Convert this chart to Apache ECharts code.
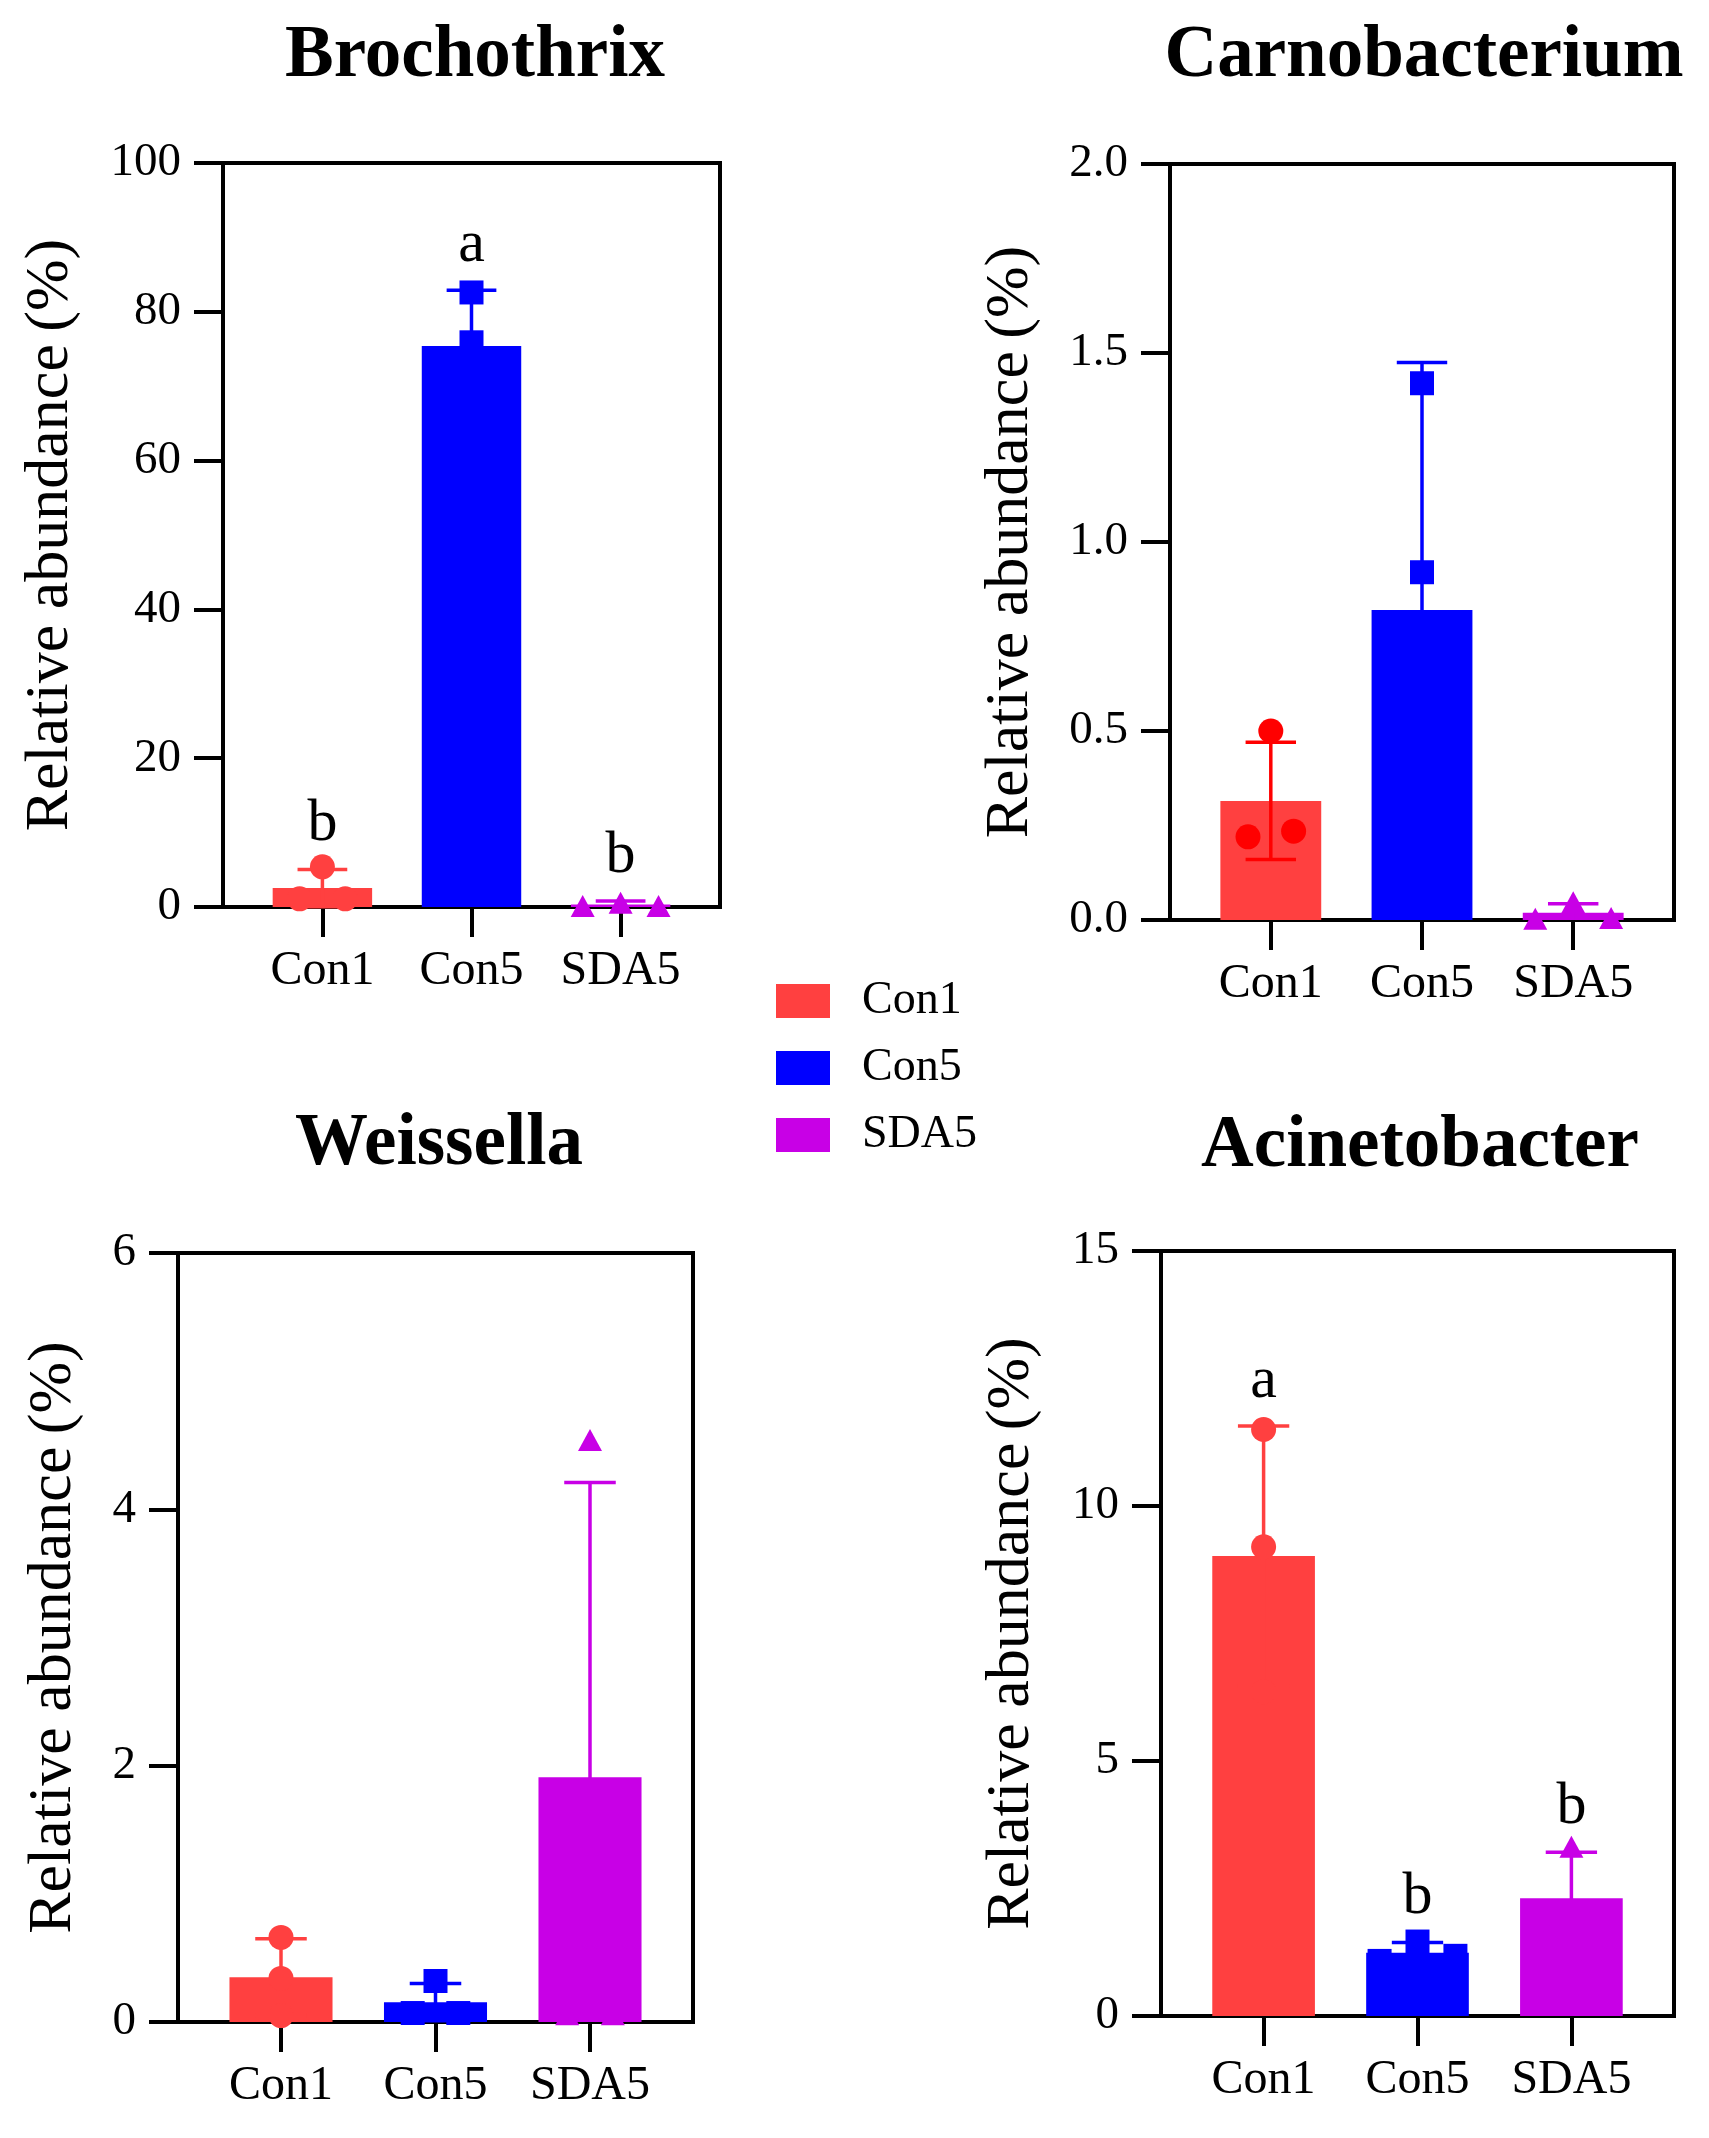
<!DOCTYPE html>
<html>
<head>
<meta charset="utf-8">
<script src="https://cdn.jsdelivr.net/npm/echarts@6/dist/echarts.min.js"></script>
<style>
html, body { margin: 0; padding: 0; background: #fff; }
#chart { width: 1709px; height: 2138px; }
</style>
</head>
<body>
<div id="chart"></div>
<script>
// groups
var groups = ['Con1', 'Con5', 'SDA5'];
var groupColors = ['#FF4040', '#0000FF', '#C800E6'];

// Brochothrix
var brochoMean = [2.55, 75.4, 0.35];
var brochoSD = [2.5, 7.5, 0.45];
var brochoPoints = [[5.4, 1.1, 1.1], [82.6, 75.9, 67.7], [0.12, 0.58, 0.12]];
var brochoLetters = ['b', 'a', 'b'];

// Carnobacterium
var carnoMean = [0.315, 0.82, 0.019];
var carnoSD = [0.155, 0.655, 0.024];
var carnoPoints = [[0.50, 0.22, 0.235], [1.42, 0.92, 0.12], [0.003, 0.047, 0.005]];

// Weissella
var weisMean = [0.35, 0.155, 1.91];
var weisSD = [0.3, 0.145, 2.3];
var weisPoints = [[0.66, 0.34, 0.05], [0.32, 0.07, 0.07], [4.54, 0.06, 0.06]];

// Acinetobacter
var acinMean = [9.02, 1.24, 2.31];
var acinSD = [2.55, 0.2, 0.9];
var acinPoints = [[11.5, 9.2, 6.36], [1.46, 1.18, 1.08], [3.32, 2.0, 1.61]];
var acinLetters = ['a', 'b', 'b'];

var FONT = "'Liberation Serif', 'Times New Roman', serif";
var yName = 'Relative abundance\u2009(%)';

var panels = [
    { title: 'Brochothrix', mean: brochoMean, sd: brochoSD, pts: brochoPoints, letters: brochoLetters,
      max: 100, interval: 20, digits: 0, box: [223, 163, 720, 907], titleX: 475, titleY: 51, nameX: 50 },
    { title: 'Carnobacterium', mean: carnoMean, sd: carnoSD, pts: carnoPoints, letters: null,
      max: 2, interval: 0.5, digits: 1, box: [1170, 164, 1674, 920], titleX: 1424, titleY: 51, nameX: 1010,
      pointColors: ['#FF0000', null, null] },
    { title: 'Weissella', mean: weisMean, sd: weisSD, pts: weisPoints, letters: null,
      max: 6, interval: 2, digits: 0, box: [178, 1253, 693, 2022], titleX: 439, titleY: 1139, nameX: 53 },
    { title: 'Acinetobacter', mean: acinMean, sd: acinSD, pts: acinPoints, letters: acinLetters,
      max: 15, interval: 5, digits: 0, box: [1161, 1251, 1674, 2016], titleX: 1420, titleY: 1141, nameX: 1011 }
];

var MARK = 24;

// 重叠的点左右散开
function spread(ys, size) {
    var idx = ys.map(function (y, i) { return i; }).sort(function (a, b) { return ys[b] - ys[a]; });
    var off = ys.map(function () { return 0; });
    var clusters = [], cur = [idx[0]];
    for (var j = 1; j < idx.length; j++) {
        if (Math.abs(ys[idx[j]] - ys[cur[cur.length - 1]]) < size) cur.push(idx[j]);
        else { clusters.push(cur); cur = [idx[j]]; }
    }
    clusters.push(cur);
    clusters.forEach(function (c) {
        if (c.length === 2) { off[c[0]] = -0.95 * size; off[c[1]] = 0.95 * size; }
        if (c.length === 3) { off[c[0]] = -1.58 * size; off[c[1]] = 1.58 * size; off[c[2]] = 0; }
    });
    return off;
}

function marker(k, x, y, color) {
    var r = MARK / 2;
    if (k === 0) return { type: 'circle', shape: { cx: x, cy: y, r: r + 0.5 }, style: { fill: color } };
    if (k === 1) return { type: 'rect', shape: { x: x - r, y: y - r, width: MARK, height: MARK }, style: { fill: color } };
    return { type: 'polygon', shape: { points: [[x, y - 11], [x - 12, y + 11], [x + 12, y + 11]] }, style: { fill: color } };
}

var grids = [], xAxes = [], yAxes = [], series = [], titles = [];

panels.forEach(function (p, i) {
    var L = p.box[0], T = p.box[1], R = p.box[2], B = p.box[3];
    var w = R - L, h = B - T, s = w * 0.3, inset = s / 6;
    var fi = 2 * i, pi = 2 * i + 1;

    // 外框
    grids.push({ left: L, top: T, width: w, height: h, show: true, borderColor: '#000', borderWidth: 4, backgroundColor: 'transparent' });
    xAxes.push({ gridIndex: fi, type: 'value', show: false, min: 0, max: 1 });
    yAxes.push({ gridIndex: fi, type: 'value', show: false, min: 0, max: 1 });

    // 绘图区
    grids.push({ left: L + inset, top: T, width: 3 * s, height: h });
    xAxes.push({
        gridIndex: pi, type: 'category', data: groups,
        axisLine: { show: false },
        axisTick: { show: true, alignWithLabel: true, length: 30, lineStyle: { color: '#000', width: 4 } },
        axisLabel: { interval: 0, fontSize: 48, color: '#000', fontFamily: FONT, margin: 40 }
    });
    yAxes.push({
        gridIndex: pi, type: 'value', min: 0, max: p.max, interval: p.interval, offset: inset,
        axisLine: { show: true, lineStyle: { color: '#000', width: 4 } },
        axisTick: { show: true, length: 29, lineStyle: { color: '#000', width: 4 } },
        splitLine: { show: false },
        axisLabel: {
            fontSize: 47, color: '#000', fontFamily: FONT, margin: 42,
            formatter: function (v) { return v.toFixed(p.digits); }
        },
        name: yName, nameLocation: 'middle', nameGap: L - p.nameX - 32,
        nameTextStyle: { fontSize: 62, color: '#000', fontFamily: FONT }
    });

    groups.forEach(function (g, k) {
        series.push({
            type: 'bar', name: g, xAxisIndex: pi, yAxisIndex: pi,
            barWidth: '66.7%', barGap: '-100%', z: 2,
            itemStyle: { color: groupColors[k] },
            data: groups.map(function (_, j) { return j === k ? p.mean[k] : '-'; })
        });
    });

    // 误差线、散点、显著性字母
    series.push({
        type: 'custom', name: 'err' + i, xAxisIndex: pi, yAxisIndex: pi, z: 3,
        encode: { x: 0, y: 1 },
        data: groups.map(function (_, k) { return [k, p.mean[k], p.sd[k]]; }),
        renderItem: function (params, api) {
            var k = params.dataIndex;
            var m = api.value(1), sd = api.value(2);
            var color = (p.pointColors && p.pointColors[k]) || groupColors[k];
            var top = api.coord([k, m + sd]);
            var lo = api.coord([k, Math.max(0, m - sd)]);
            var cap = api.size([1, 0])[0] * 0.667 * 0.5;
            var lw = 3.5;
            var kids = [
                { type: 'line', shape: { x1: top[0], y1: top[1], x2: lo[0], y2: lo[1] }, style: { stroke: color, lineWidth: lw } },
                { type: 'line', shape: { x1: top[0] - cap / 2, y1: top[1], x2: top[0] + cap / 2, y2: top[1] }, style: { stroke: color, lineWidth: lw } }
            ];
            if (m - sd > 0) {
                kids.push({ type: 'line', shape: { x1: lo[0] - cap / 2, y1: lo[1], x2: lo[0] + cap / 2, y2: lo[1] }, style: { stroke: color, lineWidth: lw } });
            }
            var pts = p.pts[k];
            var xy = pts.map(function (v) { return api.coord([k, v]); });
            var off = spread(xy.map(function (c) { return c[1]; }), MARK);
            xy.forEach(function (c, j) { kids.push(marker(k, c[0] + off[j], c[1], color)); });
            if (p.letters) {
                kids.push({
                    type: 'text', x: top[0], y: top[1] - 45,
                    style: { text: p.letters[k], fill: '#000', fontSize: 60, fontFamily: FONT, align: 'center', verticalAlign: 'middle' }
                });
            }
            return { type: 'group', children: kids };
        }
    });

    titles.push({
        text: p.title, left: p.titleX, top: p.titleY - 30, textAlign: 'center', padding: 0,
        textStyle: { fontSize: 73, fontWeight: 'bold', fontFamily: FONT, color: '#000' }
    });
});

var myChart = echarts.init(document.getElementById('chart'), null, { renderer: 'canvas' });
myChart.setOption({
    animation: false,
    backgroundColor: '#fff',
    title: titles,
    legend: {
        orient: 'vertical', left: 776, top: 978, padding: 0,
        itemWidth: 54, itemHeight: 34, itemGap: 21, icon: 'rect',
        selectedMode: false, data: groups,
        textStyle: { fontSize: 46, color: '#000', fontFamily: FONT, padding: [0, 0, 0, 27] }
    },
    grid: grids,
    xAxis: xAxes,
    yAxis: yAxes,
    series: series
});
</script>
</body>
</html>
